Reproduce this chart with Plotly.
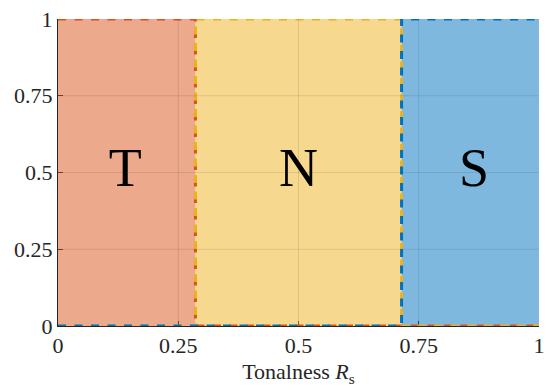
import plotly.graph_objects as go

# Class boundaries on the tonalness axis
boundaries = [0.0, 2 / 7, 5 / 7, 1.0]
class_labels = ["T", "N", "S"]
label_x = [0.14, 0.5, 0.865]
label_y = [0.5, 0.5, 0.5]

tick_vals = [0, 0.25, 0.5, 0.75, 1]
tick_text = ["0", "0.25", "0.5", "0.75", "1"]

line_colors = ["#D95319", "#EDB120", "#0072BD"]
fill_colors = ["rgba(217,83,25,0.5)", "rgba(237,177,32,0.5)", "rgba(0,114,189,0.5)"]

FONT = "Liberation Serif"
AXIS_GRAY = "#262626"
GRID = "rgba(38,38,38,0.12)"

fig = go.Figure()

# Shaded class regions
for i in range(3):
    x0, x1 = boundaries[i], boundaries[i + 1]
    fig.add_trace(go.Scatter(
        x=[x0, x1, x1, x0, x0], y=[0, 0, 1, 1, 0],
        fill="toself", fillcolor=fill_colors[i],
        mode="none", hoverinfo="skip", showlegend=False,
    ))

# Faint grid over the shaded regions (interior ticks only)
for v in tick_vals[1:-1]:
    fig.add_shape(type="line", xref="x", yref="y", x0=v, x1=v, y0=0, y1=1,
                  line=dict(color=GRID, width=1), layer="above")
    fig.add_shape(type="line", xref="x", yref="y", x0=0, x1=1, y0=v, y1=v,
                  line=dict(color=GRID, width=1), layer="above")

# Dashed indicator functions of each class
for i in range(3):
    x0, x1 = boundaries[i], boundaries[i + 1]
    xs, ys = [], []
    if x0 > 0:
        xs += [0, x0]
        ys += [0, 0]
    xs += [x0, x1]
    ys += [1, 1]
    if x1 < 1:
        xs += [x1, 1]
        ys += [0, 0]
    fig.add_trace(go.Scatter(
        x=xs, y=ys, mode="lines",
        line=dict(color=line_colors[i], width=3, dash="8px,8.5px"),
        cliponaxis=False, hoverinfo="skip", showlegend=False,
    ))

# Class letters
fig.add_trace(go.Scatter(
    x=label_x, y=label_y, mode="text", text=class_labels,
    textfont=dict(family=FONT, size=54, color="black"),
    textposition="middle center", hoverinfo="skip", showlegend=False,
))

axis_common = dict(
    range=[0, 1], tickvals=tick_vals, ticktext=tick_text,
    showgrid=False, zeroline=False, layer="below traces",
    showline=True, linecolor=AXIS_GRAY, linewidth=1,
    ticks="inside", ticklen=5, tickcolor=AXIS_GRAY,
    tickfont=dict(family=FONT, size=22, color=AXIS_GRAY),
)

fig.update_layout(
    width=551, height=387,
    margin=dict(l=58, r=6, t=19, b=61),
    paper_bgcolor="white", plot_bgcolor="white",
    font=dict(family=FONT, size=22, color=AXIS_GRAY),
    xaxis=dict(**axis_common,
               title=dict(text="Tonalness <i>R</i><sub>s</sub>",
                          font=dict(family=FONT, size=22, color=AXIS_GRAY),
                          standoff=6)),
    yaxis=axis_common,
)

fig.write_html("out.html")
